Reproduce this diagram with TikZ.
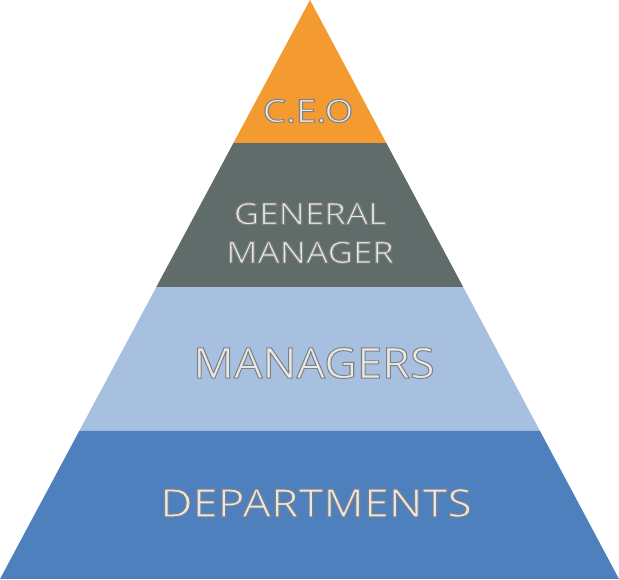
\documentclass[tikz,border=0pt]{standalone}
\usepackage{fontspec}
\setmainfont{Open Sans}
\usepackage{xcolor}
\definecolor{Ceo Orange}{HTML}{F39A30}
\definecolor{Slate}{HTML}{5F6C6A}
\definecolor{Sky}{HTML}{A7C0E0}
\definecolor{Denim}{HTML}{4E80BE}
\colorlet{cTop}{Ceo Orange}
\colorlet{cGm}{Slate}
\colorlet{cMan}{Sky}
\colorlet{cDep}{Denim}
\usepackage{graphicx}
\usepackage{tikz}
\usetikzlibrary{calc}
\tikzset{
	x=0.02cm,
	y=-0.02cm,
	band/.style={
		draw=none
	},
	rank/.style={
		text=black!9,
		align=center,
		inner sep=0pt
	}
}
% light letters with a grey rim (fill + stroke)
\newcommand{\ranktext}[2]{\scalebox{#1}[1]{\special{pdf:code q 2 Tr 0.55 w 0.5 G}#2\special{pdf:code Q}}}

\begin{document}
\begin{tikzpicture}
		% ---
% pyramid
% ---
\useasboundingbox (0,0) rectangle (619,580);
\coordinate (apex) at (310,0);
\coordinate (bl) at (0,579);
\coordinate (br) at (619,579);

\foreach \f [count=\i] in {0.247,0.496,0.744} {
	\coordinate (l\i) at ($(apex)!\f!(bl)$);
	\coordinate (r\i) at ($(apex)!\f!(br)$);
}

\fill[band, cTop] (apex) -- (l1) -- (r1) -- cycle;
\fill[band, cGm] (l1) -- (l2) -- (r2) -- (r1) -- cycle;
\fill[band, cMan] (l2) -- (l3) -- (r3) -- (r2) -- cycle;
\fill[band, cDep] (l3) -- (bl) -- (br) -- (r3) -- cycle;

\node[rank, font=\fontsize{18pt}{22pt}\selectfont] (ceo) at (308,111) {\ranktext{1.17}{C.E.O}};
\node[rank, font=\fontsize{17pt}{22pt}\selectfont] (gm) at (310,233) {\ranktext{1.17}{GENERAL}\\\ranktext{1.17}{MANAGER}};
\node[rank, font=\fontsize{24pt}{28pt}\selectfont] (man) at (314,363) {\ranktext{1.07}{MANAGERS}};
\node[rank, font=\fontsize{22pt}{26pt}\selectfont] (dep) at (316,503) {\ranktext{1.16}{DEPARTMENTS}};
	\end{tikzpicture}
\end{document}
